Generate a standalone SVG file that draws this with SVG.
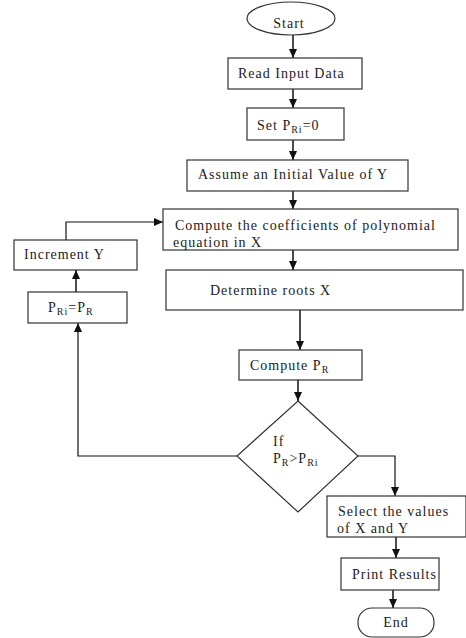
<svg xmlns="http://www.w3.org/2000/svg" width="466" height="638" viewBox="0 0 466 638">
<style>
.box{fill:#fff;stroke:#333;stroke-width:1.2}
.t{font-family:"Liberation Serif","Times New Roman",serif;font-size:14px;fill:#222;letter-spacing:1px}
.s{font-size:10px}
.c{fill:none;stroke:#111;stroke-width:1.5}
.c2{fill:none;stroke:#111;stroke-width:1.2}
</style>
<defs>
<marker id="ah" markerUnits="userSpaceOnUse" markerWidth="10" markerHeight="10" viewBox="0 0 10 10" refX="9" refY="5" orient="auto">
<path d="M0,1 L9,5 L0,9 Z" fill="#111"/>
</marker>
</defs>
<rect width="466" height="638" fill="#fff"/>
<g id="connectors">
<line class="c" x1="293" y1="35" x2="293" y2="58" marker-end="url(#ah)"/>
<line class="c" x1="293" y1="89" x2="293" y2="108" marker-end="url(#ah)"/>
<line class="c" x1="293" y1="140" x2="293" y2="160" marker-end="url(#ah)"/>
<line class="c" x1="293" y1="191" x2="293" y2="209" marker-end="url(#ah)"/>
<line class="c" x1="293" y1="250" x2="293" y2="270" marker-end="url(#ah)"/>
<line class="c" x1="300" y1="310" x2="300" y2="350" stroke-width="2" marker-end="url(#ah)"/>
<line class="c" x1="298" y1="380" x2="298" y2="401" marker-end="url(#ah)"/>
<polyline class="c2" points="237,456 78,456 78,323" marker-end="url(#ah)"/>
<line class="c" x1="76" y1="292" x2="76" y2="270" stroke-width="2" marker-end="url(#ah)"/>
<polyline class="c2" points="66,240 66,222 163,222" marker-end="url(#ah)"/>
<polyline class="c2" points="358,456 395,456 395,496" marker-end="url(#ah)"/>
<line class="c" x1="396" y1="537" x2="396" y2="558" marker-end="url(#ah)"/>
<line class="c" x1="393" y1="590" x2="393" y2="608" marker-end="url(#ah)"/>
</g>
<g id="start">
<ellipse class="box" cx="291" cy="18.5" rx="44" ry="16.5"/>
<text class="t" x="289" y="28" text-anchor="middle">Start</text>
</g>
<g id="read">
<rect class="box" x="228" y="58" width="134" height="31"/>
<text class="t" x="238" y="78">Read Input Data</text>
</g>
<g id="set">
<rect class="box" x="247" y="108" width="97" height="32"/>
<text class="t" x="257" y="130">Set P<tspan class="s" dy="3">Ri</tspan><tspan dy="-3">=0</tspan></text>
</g>
<g id="assume">
<rect class="box" x="187" y="160" width="221" height="31"/>
<text class="t" x="198" y="179">Assume an Initial Value of Y</text>
</g>
<g id="coeff">
<rect class="box" x="163" y="209" width="295" height="41"/>
<text class="t" x="175" y="230">Compute the coefficients of polynomial</text>
<text class="t" x="173" y="247">equation in X</text>
</g>
<g id="roots">
<rect class="box" x="166" y="270" width="297" height="40"/>
<text class="t" x="210" y="295">Determine roots X</text>
</g>
<g id="computepr">
<rect class="box" x="239" y="350" width="123" height="30"/>
<text class="t" x="250" y="370">Compute P<tspan class="s" dy="3">R</tspan></text>
</g>
<g id="decision">
<polygon class="box" points="298,401 358,456 298,512 237,456"/>
<text class="t" x="273" y="446">If</text>
<text class="t" x="273" y="463">P<tspan class="s" dy="3">R</tspan><tspan dy="-3">&gt;P</tspan><tspan class="s" dy="3">Ri</tspan></text>
</g>
<g id="increment">
<rect class="box" x="14" y="240" width="123" height="30"/>
<text class="t" x="24" y="259">Increment Y</text>
</g>
<g id="assign">
<rect class="box" x="28" y="292" width="99" height="31"/>
<text class="t" x="48" y="312">P<tspan class="s" dy="3">Ri</tspan><tspan dy="-3">=P</tspan><tspan class="s" dy="3">R</tspan></text>
</g>
<g id="select">
<rect class="box" x="327" y="496" width="139" height="41"/>
<text class="t" x="338" y="516">Select the values</text>
<text class="t" x="337" y="533">of X and Y</text>
</g>
<g id="print">
<rect class="box" x="341" y="558" width="98" height="32"/>
<text class="t" x="352" y="579">Print Results</text>
</g>
<g id="end">
<rect class="box" x="358" y="608" width="76" height="29" rx="14" ry="14"/>
<text class="t" x="396" y="627" text-anchor="middle">End</text>
</g>
</svg>
